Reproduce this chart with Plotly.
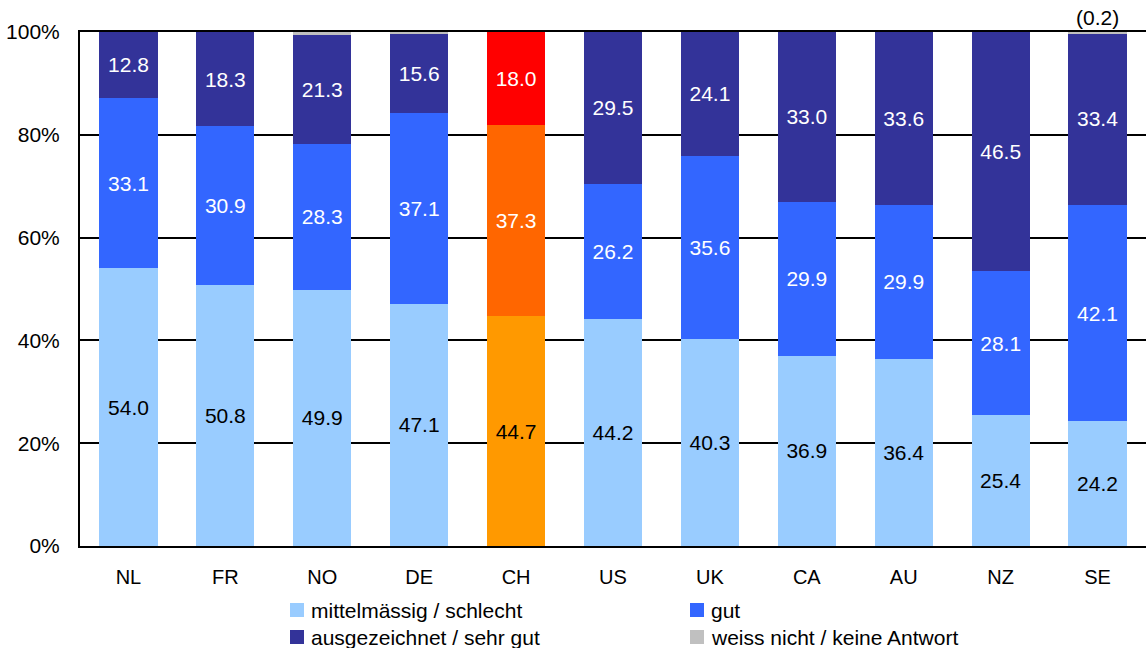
import plotly.graph_objects as go

# Länder und Anteile (in %)
countries = ["NL", "FR", "NO", "DE", "CH", "US", "UK", "CA", "AU", "NZ", "SE"]
mittel_schlecht = [54.0, 50.8, 49.9, 47.1, 44.7, 44.2, 40.3, 36.9, 36.4, 25.4, 24.2]
gut = [33.1, 30.9, 28.3, 37.1, 37.3, 26.2, 35.6, 29.9, 29.9, 28.1, 42.1]
sehr_gut = [12.8, 18.3, 21.3, 15.6, 18.0, 29.5, 24.1, 33.0, 33.6, 46.5, 33.4]
weiss_nicht = [0.0, 0.0, 0.5, 0.2, 0.0, 0.0, 0.0, 0.0, 0.0, 0.0, 0.2]
y_ticks = [0, 20, 40, 60, 80, 100]

series_names = ["mittelmässig / schlecht", "gut", "ausgezeichnet / sehr gut",
                "weiss nicht / keine Antwort"]
base_colors = ["#99CCFF", "#3366FF", "#333399", "#C0C0C0"]
ch_colors = ["#FF9900", "#FF6600", "#FF0000", "#C0C0C0"]
text_colors = ["black", "white", "white", None]
highlight = "CH"

FONT = "Liberation Sans, Arial, sans-serif"
W, H = 1146, 648
ML, MR, MT, MB = 80, 0, 32, 102
PW, PH = W - ML - MR, H - MT - MB

fig = go.Figure()
for i, (name, vals) in enumerate(zip(series_names,
                                     [mittel_schlecht, gut, sehr_gut, weiss_nicht])):
    colors = [ch_colors[i] if c == highlight else base_colors[i] for c in countries]
    show_text = text_colors[i] is not None
    fig.add_trace(go.Bar(
        x=countries, y=vals, name=name,
        marker=dict(color=colors, line=dict(width=0)),
        text=[f"{v:.1f}" for v in vals] if show_text else None,
        texttemplate="%{text}" if show_text else None,
        textposition="inside" if show_text else "none",
        insidetextanchor="middle",
        textangle=0,
        insidetextfont=dict(family=FONT, size=21,
                            color=text_colors[i] if show_text else "black"),
        constraintext="none",
        showlegend=False,
        hoverinfo="x+text+name",
    ))

# Wert der kleinen Kategorie über der letzten Säule
fig.add_annotation(
    x=countries[-1], y=100, xref="x", yref="y",
    text=f"({weiss_nicht[-1]:.1f})", showarrow=False,
    yanchor="bottom", yshift=1,
    font=dict(family=FONT, size=21, color="black"),
)

# Legende in zwei Spalten
def px_x(px):
    return (px - ML) / PW

def px_y(py):
    return (H - MB - py) / PH

legend_items = [
    (series_names[0], base_colors[0], 290, 610),
    (series_names[1], base_colors[1], 690, 610),
    (series_names[2], base_colors[2], 290, 637),
    (series_names[3], base_colors[3], 690, 637),
]
for label, color, lx, ly in legend_items:
    fig.add_shape(type="rect", xref="paper", yref="paper",
                  x0=px_x(lx), x1=px_x(lx + 14),
                  y0=px_y(ly - 7), y1=px_y(ly + 7),
                  fillcolor=color, line=dict(width=0))
    fig.add_annotation(x=px_x(lx + 19), y=px_y(ly), xref="paper", yref="paper",
                       text=label, showarrow=False, xanchor="left", yanchor="middle",
                       font=dict(family=FONT, size=21, color="black"))

fig.update_layout(
    width=W, height=H,
    margin=dict(l=ML, r=MR, t=MT, b=MB, pad=0),
    barmode="stack",
    barnorm="percent",
    bargap=0.40,
    plot_bgcolor="white",
    paper_bgcolor="white",
    font=dict(family=FONT, color="black"),
    xaxis=dict(
        showgrid=False, showline=True, linecolor="black", linewidth=2,
        mirror=True, ticks="", ticklabelstandoff=12,
        tickfont=dict(family=FONT, size=20, color="black"),
        zeroline=False,
    ),
    yaxis=dict(
        range=[0, 100], tickvals=y_ticks, ticktext=[f"{v}%" for v in y_ticks],
        showgrid=True, gridcolor="black", gridwidth=2,
        showline=True, linecolor="black", linewidth=2,
        ticks="", ticklabelstandoff=14,
        tickfont=dict(family=FONT, size=21, color="black"),
        zeroline=False,
    ),
)

fig.write_html("out.html")
